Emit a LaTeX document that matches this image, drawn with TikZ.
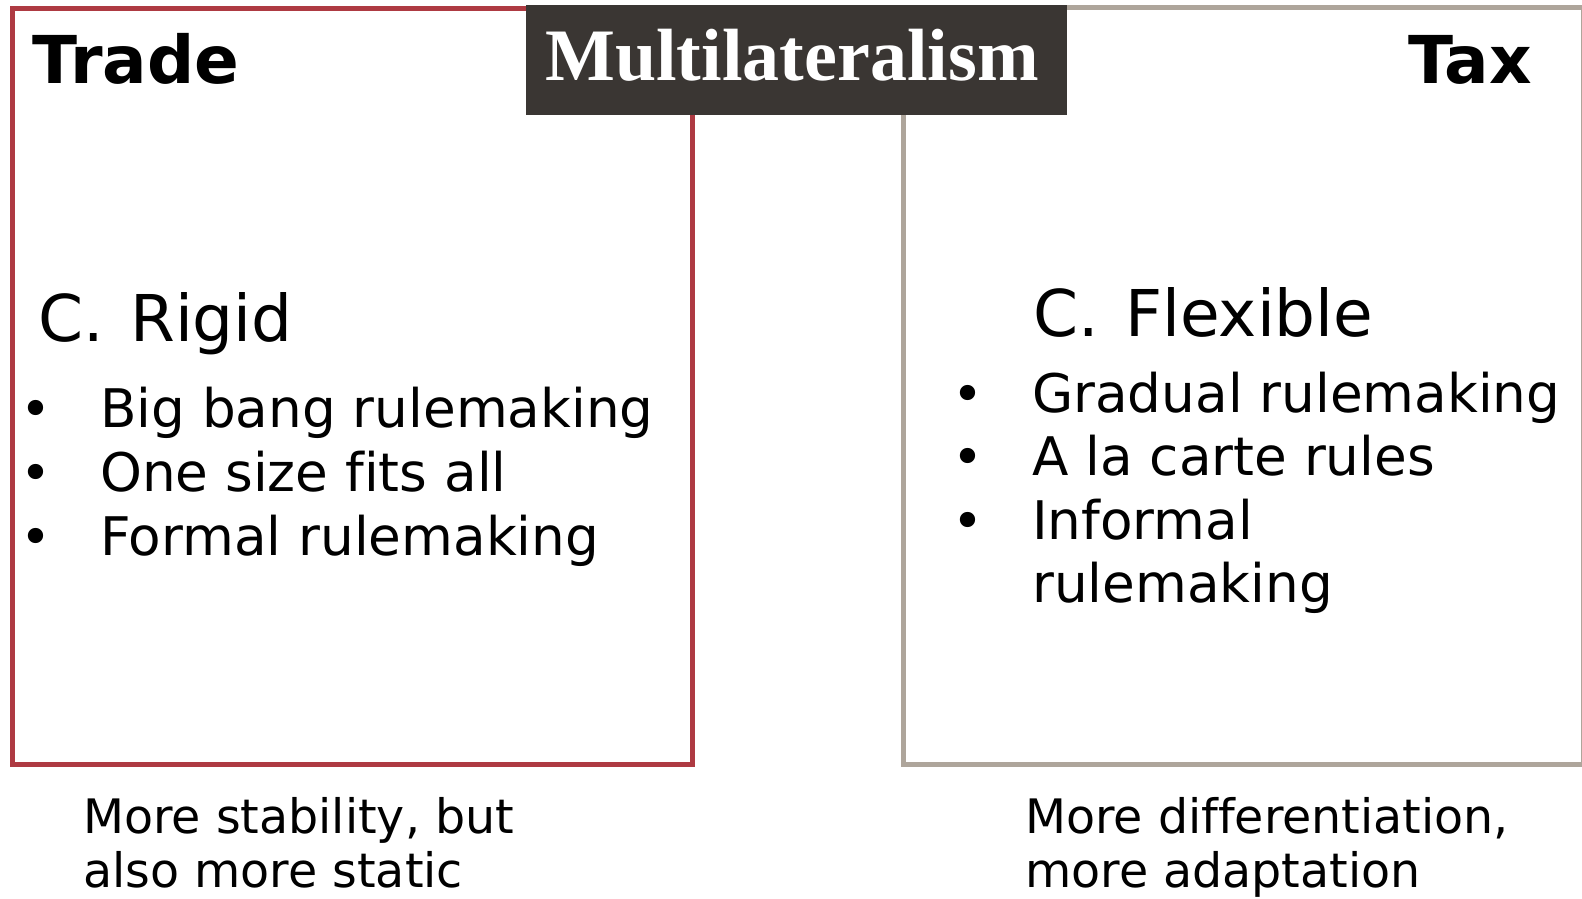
\documentclass[tikz,border=0pt]{standalone}
\usepackage{fontspec}
\setmainfont[Ligatures=NoCommon]{DejaVu Sans}
\newfontfamily\titlefont{Liberation Serif}
\definecolor{tradered}{HTML}{AE3A42}
\definecolor{taxgray}{HTML}{AEA59B}
\definecolor{titlebg}{HTML}{3A3633}
\tikzset{
  frame/.style={line width=5pt},
  head/.style={anchor=base west, inner sep=0pt, font=\fontsize{66}{72}\selectfont\bfseries},
  sub/.style={anchor=base west, inner sep=0pt, font=\fontsize{64.5}{70}\selectfont},
  item/.style={anchor=base west, inner sep=0pt, font=\fontsize{53.2}{60}\selectfont},
  dot/.style={anchor=base, inner sep=0pt, font=\fontsize{52.5}{60}\selectfont},
  note/.style={anchor=base west, inner sep=0pt, font=\fontsize{47.5}{54}\selectfont},
}
\begin{document}
\begin{tikzpicture}[x=1pt,y=-1pt]
\useasboundingbox (0,0) rectangle (1582,899);
% frames
\draw[frame, tradered] (12,9) rectangle (692,764);
\draw[frame, taxgray] (903,8) rectangle (1583,764);
% title
\node[fill=titlebg, inner sep=0pt, minimum width=541pt, minimum height=110pt] (title) at (796.5,60) {};
\node[anchor=base, inner sep=0pt, text=white, font=\titlefont\fontsize{74}{80}\selectfont\bfseries] (titletext) at (792,81) {Multilateralism};
% headings
\node[head] (trade) at (32,83) {Trade};
\node[head] (tax) at (1408,84) {Tax};
% left column
\node[sub] (rigid) at (38,341) {C.\hspace{6pt} Rigid};
\node[dot] (b1) at (36,427) {•};
\node[item] (l1) at (100,427) {Big bang rulemaking};
\node[dot] (b2) at (36,491) {•};
\node[item] (l2) at (100,491) {One size fits all};
\node[dot] (b3) at (36,555) {•};
\node[item] (l3) at (100,555) {Formal rulemaking};
% right column
\node[sub] (flex) at (1033,336) {C.\hspace{6pt} Flexible};
\node[dot] (r1b) at (968,412) {•};
\node[item] (r1) at (1032,412) {Gradual rulemaking};
\node[dot] (r2b) at (968,475) {•};
\node[item] (r2) at (1032,475) {A la carte rules};
\node[dot] (r3b) at (968,539) {•};
\node[item] (r3) at (1032,539) {Informal};
\node[item] (r4) at (1032,602) {rulemaking};
% notes
\node[note] (n1) at (83,833) {More stability, but};
\node[note] (n2) at (83,887) {also more static};
\node[note] (n3) at (1025,833) {More differentiation,};
\node[note] (n4) at (1025,887) {more adaptation};
\end{tikzpicture}
\end{document}
